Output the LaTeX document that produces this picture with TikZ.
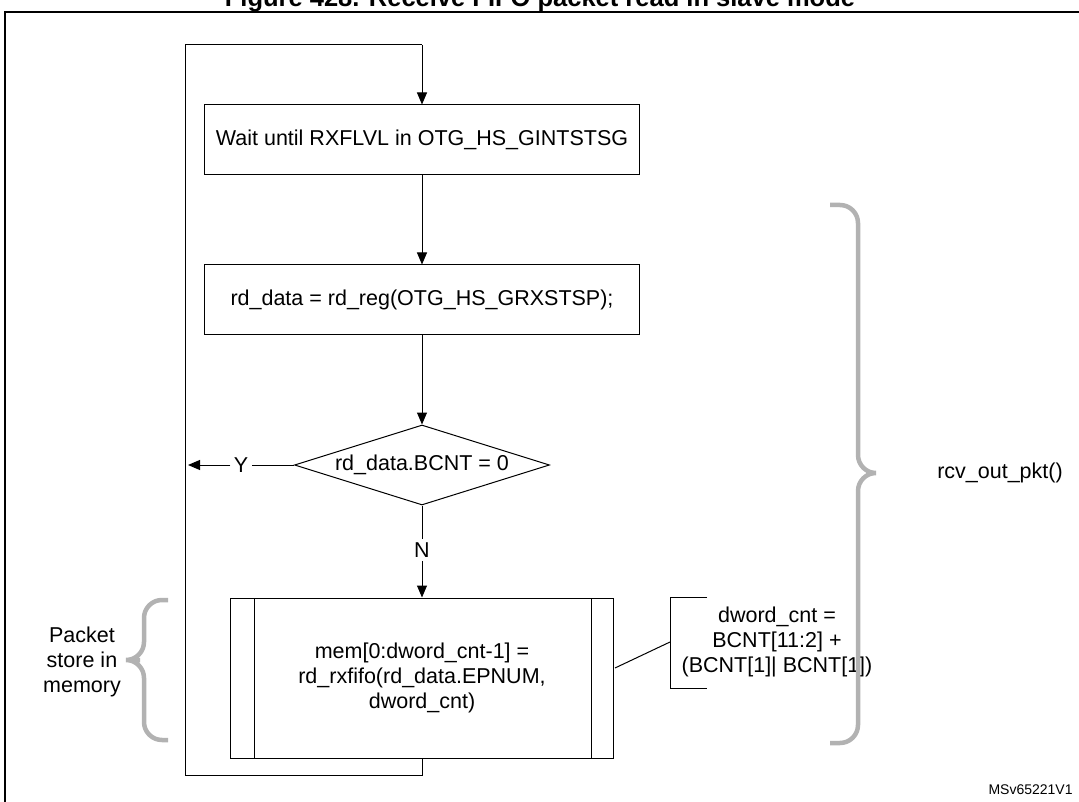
\documentclass[tikz,border=0pt]{standalone}
\usepackage{fontspec}
\setmainfont{Liberation Sans}
\usetikzlibrary{shapes.geometric,arrows.meta}
\begin{document}
\begin{tikzpicture}[x=1pt,y=-1pt,
  box/.style={draw,line width=1pt,minimum width=435pt,minimum height=70pt,font=\fontsize{21.5}{25}\selectfont},
  arr/.style={-{Triangle[length=12pt,width=10pt]},line width=1pt},
  ln/.style={line width=1pt},
  brace/.style={draw=black!30,line width=4.5pt,rounded corners=18pt},
  txt/.style={font=\fontsize{21.5}{25}\selectfont,align=center}]
\useasboundingbox (0,0) rectangle (1079,802);
\clip (0,0) rectangle (1079,802);
\node[font=\bfseries\fontsize{25.5}{30}\selectfont] (title) at (540,0) {Figure 428. Receive FIFO packet read in slave mode};
\draw[line width=1.5pt] (1085,12) -- (5,12) -- (5,810);
\coordinate (tl) at (185,45);
\coordinate (tr) at (422,45);
\node[box] (b1) at (422,140) {Wait until RXFLVL in OTG\_HS\_GINTSTSG};
\node[box] (b2) at (422,300) {rd\_data = rd\_reg(OTG\_HS\_GRXSTSP);};
\node[draw,line width=1pt,diamond,aspect=3.2,minimum width=255pt,minimum height=80pt,inner sep=0pt,font=\fontsize{21.5}{25}\selectfont] (d) at (422,465) {rd\_data.BCNT = 0};
\node[draw,line width=1pt,minimum width=383pt,minimum height=160pt,txt] (p) at (422,678) {mem[0:dword\_cnt-1] =\\rd\_rxfifo(rd\_data.EPNUM,\\dword\_cnt)};
\draw[ln] (254,598) -- (254,758) (591,598) -- (591,758);
\coordinate (bl) at (185,775);
\coordinate (br) at (422,775);
\draw[ln] (p.south) -- (br) -- (bl) -- (tl) -- (tr);
\draw[arr] (tr) -- (b1.north);
\draw[arr] (b1.south) -- (b2.north);
\draw[arr] (b2.south) -- (d.north);
\node[txt] (Y) at (241,465) {Y};
\coordinate (ye) at (188,465);
\draw[ln] (d.west) -- (Y.east);
\draw[arr] (Y.west) -- (ye);
\node[txt] (N) at (422,550) {N};
\draw[ln] (d.south) -- (N.north);
\draw[arr] (N.south) -- (p.north);
\node[txt] (dw) at (777,642) {dword\_cnt =\\BCNT[11:2] +\\(BCNT[1]| BCNT[1])};
\draw[ln] (707,597) -- (670,597) -- (670,688) -- (707,688);
\coordinate (bm) at (670,642);
\draw[ln] (615,668) -- (bm);
\draw[brace] (830,205) -- (858,205) -- (858,473) -- (884,473) -- (858,473) -- (858,743) -- (830,743);
\node[txt] (r) at (1000,473) {rcv\_out\_pkt()};
\draw[brace] (168,600) -- (144,600) -- (144,660) -- (122,660) -- (144,660) -- (144,740) -- (168,740);
\node[txt] (pk) at (82,662) {Packet\\store in\\memory};
\node[font=\fontsize{14}{16}\selectfont,anchor=west] (ms) at (985,790) {MSv65221V1};
\end{tikzpicture}
\end{document}
